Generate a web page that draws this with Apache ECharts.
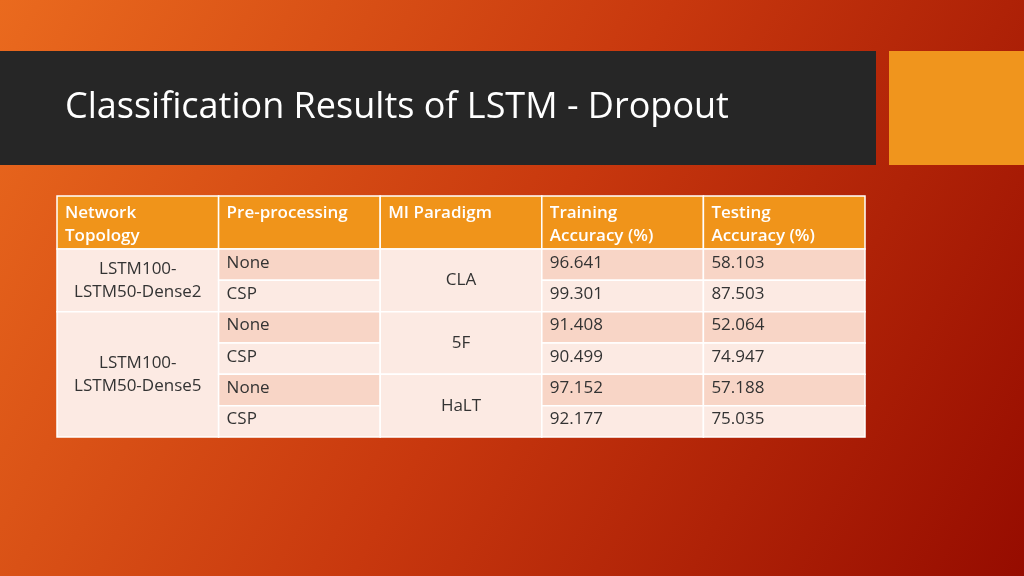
<!DOCTYPE html>
<html><head><meta charset="utf-8">
<script src="https://cdn.jsdelivr.net/npm/echarts@6/dist/echarts.min.js"></script>
<style>html,body{margin:0;padding:0}#c{width:1024px;height:576px}</style>
</head><body><div id="c"></div>
<script>
const title = "Classification Results of LSTM - Dropout";
const headers = ["Network\nTopology", "Pre-processing", "MI Paradigm", "Training\nAccuracy (%)", "Testing\nAccuracy (%)"];
const topologies = ["LSTM100-\nLSTM50-Dense2", "LSTM100-\nLSTM50-Dense5"];
const topologySpans = [2, 4];
const preprocessing = ["None", "CSP", "None", "CSP", "None", "CSP"];
const paradigms = ["CLA", "5F", "HaLT"];
const trainAcc = [96.641, 99.301, 91.408, 90.499, 97.152, 92.177];
const testAcc = [58.103, 87.503, 52.064, 74.947, 57.188, 75.035];

const HEAD = 53, ROW = 31.3;
const rowTop = r => HEAD + r * ROW;
const dark = "#F8D5C6", light = "#FCEAE3", mergedFill = "#FCEAE3";
const cells = [];
headers.forEach((h, i) => cells.push({c0: i, c1: i + 1, y0: 0, y1: HEAD, text: h, head: true, align: "left"}));
let r = 0;
topologies.forEach((t, i) => { cells.push({c0: 0, c1: 1, y0: rowTop(r), y1: rowTop(r + topologySpans[i]), text: t, align: "center", fill: mergedFill}); r += topologySpans[i]; });
preprocessing.forEach((p, i) => cells.push({c0: 1, c1: 2, y0: rowTop(i), y1: rowTop(i + 1), text: p, align: "left", fill: i % 2 ? light : dark}));
paradigms.forEach((p, i) => cells.push({c0: 2, c1: 3, y0: rowTop(2 * i), y1: rowTop(2 * i + 2), text: p, align: "center", fill: mergedFill}));
trainAcc.forEach((v, i) => cells.push({c0: 3, c1: 4, y0: rowTop(i), y1: rowTop(i + 1), text: v.toFixed(3), align: "left", fill: i % 2 ? light : dark}));
testAcc.forEach((v, i) => cells.push({c0: 4, c1: 5, y0: rowTop(i), y1: rowTop(i + 1), text: v.toFixed(3), align: "left", fill: i % 2 ? light : dark}));
const TOTAL = rowTop(6);

const chart = echarts.init(document.getElementById('c'));
chart.setOption({
  backgroundColor: {type: 'linear', x: 0, y: 0, x2: 1, y2: 1, colorStops: [
    {offset: 0, color: '#EA6A1E'}, {offset: 0.5, color: '#C8380E'}, {offset: 1, color: '#960C00'}]},
  graphic: [
    {type: 'rect', shape: {x: 0, y: 51, width: 876, height: 114}, style: {fill: '#262626'}},
    {type: 'rect', shape: {x: 889, y: 51, width: 135, height: 114}, style: {fill: '#F0951D'}},
    {type: 'text', x: 65, y: 108, style: {text: title, fill: '#fff', font: '36px "Open Sans", sans-serif', verticalAlign: 'middle'}}
  ],
  grid: {left: 57, top: 196, width: 808, height: 241},
  xAxis: {type: 'value', min: 0, max: 5, show: false},
  yAxis: {type: 'value', min: 0, max: TOTAL, inverse: true, show: false},
  series: [{
    type: 'custom', coordinateSystem: 'cartesian2d',
    data: cells.map((c, i) => [c.c0, c.y0, c.c1, c.y1, i]),
    renderItem: (params, api) => {
      const c = cells[api.value(4)];
      const p0 = api.coord([api.value(0), api.value(1)]);
      const p1 = api.coord([api.value(2), api.value(3)]);
      const w = p1[0] - p0[0], h = p1[1] - p0[1];
      const children = [{type: 'rect', shape: {x: p0[0], y: p0[1], width: w, height: h},
        style: {fill: c.head ? '#F0941A' : c.fill, stroke: '#fff', lineWidth: 1.5}}];
      let tx, ty, va, ta;
      if (c.head) { tx = p0[0] + 8; ty = p0[1] + 6; va = 'top'; ta = 'left'; }
      else if (c.align === 'center') { tx = p0[0] + w / 2; ty = p0[1] + h / 2; va = 'middle'; ta = 'center'; }
      else { tx = p0[0] + 8; ty = p0[1] + h / 2 - 2; va = 'middle'; ta = 'left'; }
      children.push({type: 'text', style: {x: tx, y: ty, text: c.text, textAlign: ta, textVerticalAlign: va,
        fill: c.head ? '#fff' : '#333', font: (c.head ? '600 ' : '') + '17px "Open Sans", sans-serif', lineHeight: 23}});
      return {type: 'group', children};
    }
  }]
});
</script></body></html>
